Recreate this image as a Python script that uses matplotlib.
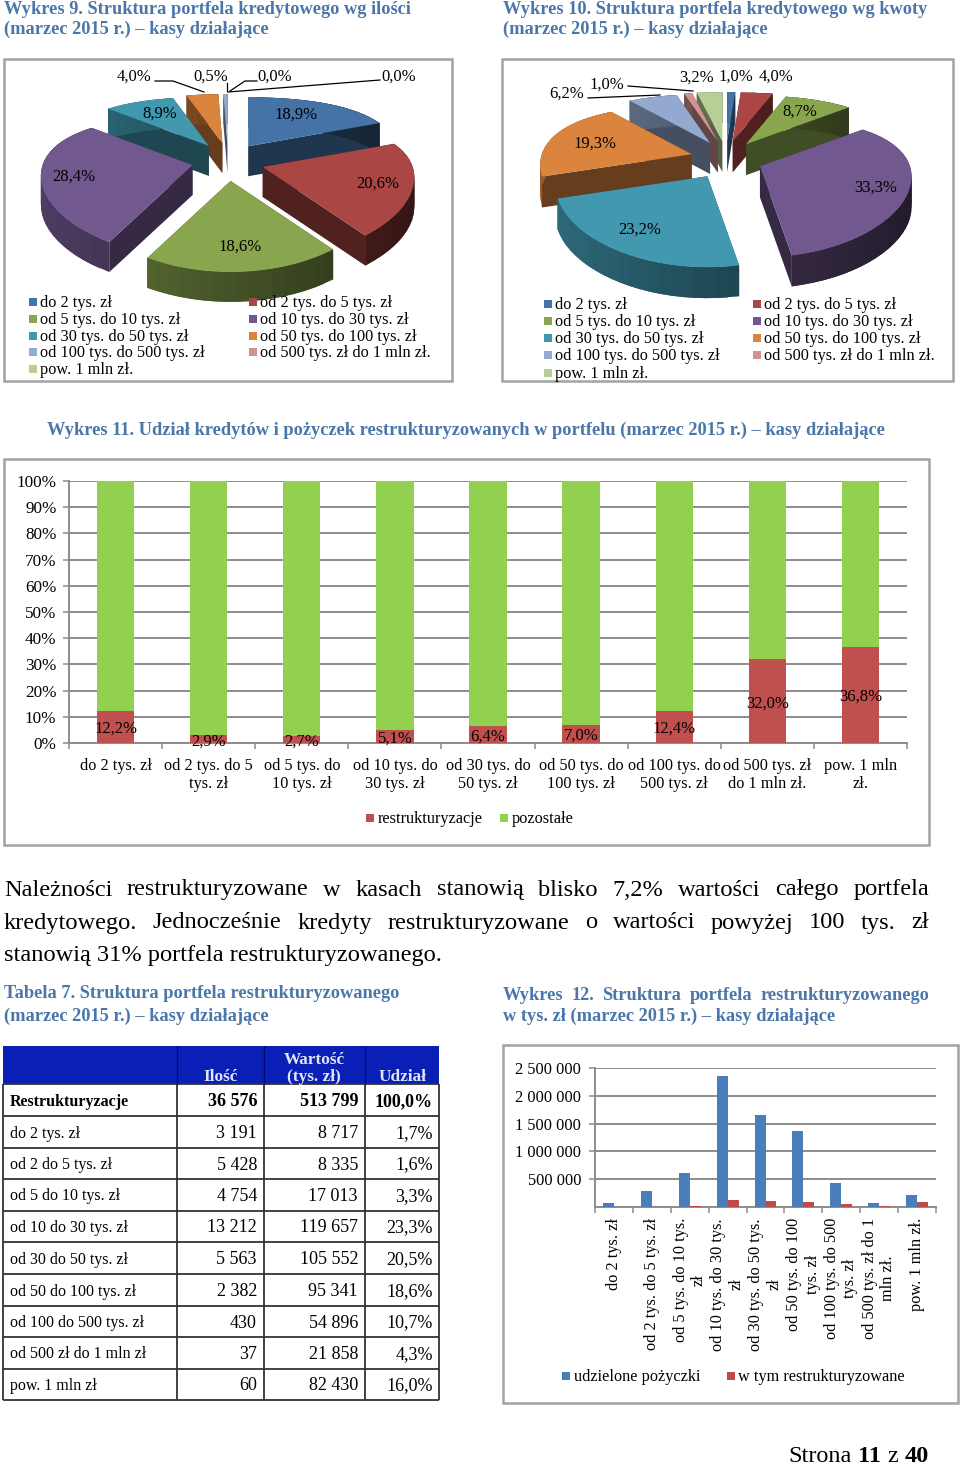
import numpy as np
import matplotlib.pyplot as plt
from matplotlib.patches import Rectangle

plt.rcParams.update({'font.family': ['Liberation Serif', 'DejaVu Serif'], 'font.size': 11.7})

W, H = 960, 1465

# -------------------------------------------------------------------------
# data
# -------------------------------------------------------------------------
PIE_NAMES = ["do 2 tys. zł", "od 2 tys. do 5 tys. zł", "od 5 tys. do 10 tys. zł",
             "od 10 tys. do 30 tys. zł", "od 30 tys. do 50 tys. zł", "od 50 tys. do 100 tys. zł",
             "od 100 tys. do 500 tys. zł", "od 500 tys. zł do 1 mln zł.", "pow. 1 mln zł."]
PIE_COLORS = ["#4572a7", "#aa4643", "#89a54e", "#71588f", "#4198af",
              "#db843d", "#93a9cf", "#d19392", "#b9cd96"]
shares_ilosc = [18.9, 20.6, 18.6, 28.4, 8.9, 4.0, 0.5, 0.0, 0.0]
shares_kwota = [1.0, 4.0, 8.7, 33.3, 23.2, 19.3, 6.2, 1.0, 3.2]

stack_names = ["do 2 tys. zł", "od 2 tys. do 5\ntys. zł", "od 5 tys. do\n10 tys. zł",
               "od 10 tys. do\n30 tys. zł", "od 30 tys. do\n50 tys. zł", "od 50 tys. do\n100 tys. zł",
               "od 100 tys. do\n500 tys. zł", "od 500 tys. zł\ndo 1 mln zł.", "pow. 1 mln\nzł."]
restr_pct = [12.2, 2.9, 2.7, 5.1, 6.4, 7.0, 12.4, 32.0, 36.8]

bar_names = ["do 2 tys. zł", "od 2 tys. do 5 tys. zł", "od 5 tys. do 10 tys.\nzł",
             "od 10 tys. do 30 tys.\nzł", "od 30 tys. do 50 tys.\nzł", "od 50 tys. do 100\ntys. zł",
             "od 100 tys. do 500\ntys. zł", "od 500 tys. zł do 1\nmln zł.", "pow. 1 mln zł."]
udzielone = [72000, 288000, 617000, 2356000, 1649000, 1367000, 438000, 66000, 222000]
w_tym_restr = [8717, 8335, 17013, 119657, 105552, 95341, 54896, 21858, 82430]

table_header = ["Ilość", "Wartość\n(tys. zł)", "Udział"]
table_rows = ["Restrukturyzacje", "do 2 tys. zł", "od 2 do 5 tys. zł", "od 5 do 10 tys. zł",
              "od 10 do 30 tys. zł", "od 30 do 50 tys. zł", "od 50 do 100 tys. zł",
              "od 100 do 500 tys. zł", "od 500 zł do 1 mln zł", "pow. 1 mln zł"]
table_ilosc = ["36 576", "3 191", "5 428", "4 754", "13 212", "5 563", "2 382", "430", "37", "60"]
table_wartosc = ["513 799", "8 717", "8 335", "17 013", "119 657", "105 552", "95 341",
                 "54 896", "21 858", "82 430"]
table_udzial = ["100,0%", "1,7%", "1,6%", "3,3%", "23,3%", "20,5%", "18,6%", "10,7%", "4,3%", "16,0%"]

BLUE_TITLE = "#4a76aa"
FRAME = "#a3a3a3"
GRID = "#8c8c8c"

fig = plt.figure(figsize=(W / 100, H / 100), dpi=100)
page = fig.add_axes([0, 0, 1, 1])
page.set_xlim(0, W)
page.set_ylim(H, 0)
page.axis("off")
renderer = fig.canvas.get_renderer()


def px_axes(x0, y0, x1, y1):
    ax = fig.add_axes([x0 / W, 1 - y1 / H, (x1 - x0) / W, (y1 - y0) / H])
    ax.patch.set_alpha(0)
    return ax


def line_of_words(words, x0, x1, y, size, color="black", weights=None):
    # justified line: the spare room goes evenly between the words
    weights = weights or ["normal"] * len(words)
    items = [page.text(x0, y, w, fontsize=size, color=color, weight=b, va="center")
             for w, b in zip(words, weights)]
    widths = [t.get_window_extent(renderer).width for t in items]
    gap = (x1 - x0 - sum(widths)) / (len(words) - 1)
    x = x0
    for t, w in zip(items, widths):
        t.set_x(x)
        x += w + gap


def frame(x0, y0, x1, y1):
    page.add_patch(Rectangle((x0, y0), x1 - x0, y1 - y0, fc="white", ec=FRAME, lw=1.8))


def swatch(x, y, color, size=8):
    page.add_patch(Rectangle((x, y - size / 2), size, size, fc=color, ec="none"))


def shade(color, f):
    c = np.array(plt.matplotlib.colors.to_rgb(color))
    return tuple(c * f)


def draw_pie(shares, cx, cy, depth):
    rx, ry, ex, ey = 150, 70, 36, 19
    edges = np.cumsum([0] + shares) / sum(shares) * 2 * np.pi
    slices = []
    for i, s in enumerate(shares):
        if s > 0:
            slices.append((edges[i], edges[i + 1], PIE_COLORS[i]))
    # back slices first so that the front ones sit on top
    slices.sort(key=lambda q: -np.cos((q[0] + q[1]) / 2))
    for a0, a1, col in slices:
        mid = (a0 + a1) / 2
        ax_, ay_ = cx + ex * np.sin(mid), cy - ey * np.cos(mid)
        a = np.linspace(a0, a1, max(int((a1 - a0) * 16), 3))
        c = -np.cos(a)
        xs = ax_ + rx * np.sin(a) * (1 + 0.15 * c)
        ys = ay_ + ry * c * (1 + 0.3 * c)
        for px, py in [(xs[0], ys[0]), (xs[-1], ys[-1])]:
            page.fill([ax_, px, px, ax_], [ay_, py, py + depth, ay_ + depth],
                      color=shade(col, 0.47), lw=0)
        n = len(a)
        for j in range(n - 1):
            # each strip runs under the next one, so no seams show
            k = min(j + 2, n - 1)
            f = 0.5 - 0.2 * np.sin((a[j] + a[j + 1]) / 2)
            page.fill([xs[j], xs[k], xs[k], xs[j]],
                      [ys[j], ys[k], ys[k] + depth, ys[j] + depth],
                      color=shade(col, f), lw=0)
        page.fill(np.r_[ax_, xs], np.r_[ay_, ys], color=col, lw=0)


def pie_legend(col_x, row_y):
    for i, name in enumerate(PIE_NAMES):
        x = col_x[i % 2]
        y = row_y[i // 2]
        swatch(x - 11, y, PIE_COLORS[i])
        page.text(x, y + 1, name, fontsize=11.7, va="center")


# -------------------------------------------------------------------------
# titles and paragraph
# -------------------------------------------------------------------------
bold = dict(fontsize=13.25, color=BLUE_TITLE, weight="bold", va="center")
page.text(4, 9, "Wykres 9. Struktura portfela kredytowego wg ilości", **bold)
page.text(4, 29, "(marzec 2015 r.) – kasy działające", **bold)
page.text(503, 9, "Wykres 10. Struktura portfela kredytowego wg kwoty", **bold)
page.text(503, 29, "(marzec 2015 r.) – kasy działające", **bold)
page.text(47, 430, "Wykres 11. Udział kredytów i pożyczek restrukturyzowanych w portfelu (marzec 2015 r.) – kasy działające", **bold)
page.text(4, 994, "Tabela 7. Struktura portfela restrukturyzowanego", **bold)
page.text(4, 1016, "(marzec 2015 r.) – kasy działające", **bold)
line_of_words("Wykres 12. Struktura portfela restrukturyzowanego".split(), 503, 929, 995, 13.25,
              BLUE_TITLE, ["bold"] * 5)
page.text(503, 1016, "w tys. zł (marzec 2015 r.) – kasy działające", **bold)

line_of_words("Należności restrukturyzowane w kasach stanowią blisko 7,2% wartości całego portfela".split(),
              4, 929, 890, 17.6)
line_of_words("kredytowego. Jednocześnie kredyty restrukturyzowane o wartości powyżej 100 tys. zł".split(),
              4, 929, 923, 17.6)
page.text(4, 955, "stanowią 31% portfela restrukturyzowanego.", fontsize=17.6, va="center")
line_of_words(["Strona", "11", "z", "40"], 788, 929, 1456, 17.5,
              weights=["normal", "bold", "normal", "bold"])

# =========================================================================
# PIES
# =========================================================================
frame(3.5, 59, 452, 381)
draw_pie(shares_ilosc, 228, 162, 30)
pie_legend([40, 260], [302, 319, 336, 352, 369])
for x, y, s in [(134, 77, "4,0%"), (211, 77, "0,5%"), (275, 77, "0,0%"), (399, 77, "0,0%"),
                (160, 114, "8,9%"), (296, 115, "18,9%"), (74, 177, "28,4%"),
                (378, 184, "20,6%"), (240, 247, "18,6%")]:
    page.text(x, y, s, ha="center", va="center", fontsize=12)
for xs, ys in [([155, 173, 204], [81, 81, 92]), ([227, 227], [83, 91]),
               ([257, 245, 230], [81, 81, 91]), ([380, 228], [80, 92])]:
    page.plot(xs, ys, color="black", lw=0.9)

frame(502, 59, 953, 381)
draw_pie(shares_kwota, 726, 160, 31)
pie_legend([555, 764], [304, 321, 338, 355, 373])
for x, y, s in [(567, 94, "6,2%"), (607, 85, "1,0%"), (696, 78, "3,2%"), (736, 77, "1,0%"),
                (776, 77, "4,0%"), (800, 112, "8,7%"), (595, 144, "19,3%"),
                (876, 188, "33,3%"), (640, 230, "23,2%")]:
    page.text(x, y, s, ha="center", va="center", fontsize=12)
for xs, ys in [([628, 693], [86, 91]), ([588, 660], [98, 95])]:
    page.plot(xs, ys, color="black", lw=0.9)

# =========================================================================
# STACKED BARS
# =========================================================================
frame(3.5, 459, 929, 845)
ax = px_axes(69, 481, 907, 743)
pos = np.arange(len(restr_pct))
pozostale = [100 - v for v in restr_pct]
ax.bar(pos, restr_pct, width=0.4, color="#c0504d", zorder=3)
ax.bar(pos, pozostale, width=0.4, bottom=restr_pct, color="#92d050", zorder=3)
for p, v in zip(pos, restr_pct):
    ax.annotate(f"{v:.1f}%".replace(".", ","), (p, v / 2), xytext=(0, -1.5), textcoords="offset points",
                ha="center", va="center", zorder=4, fontsize=12)
ax.set_xlim(-0.5, len(pos) - 0.5)
ax.set_ylim(0, 100)
ax.set_yticks(np.arange(0, 101, 10))
ax.set_yticklabels([f"{v}%" for v in range(0, 101, 10)], fontsize=12.3)
ax.set_xticks(np.arange(len(pos) + 1) - 0.5)
ax.set_xticklabels([])
ax.set_xticks(pos, minor=True)
ax.set_xticklabels(stack_names, minor=True, ma="center")
ax.tick_params(axis="x", which="minor", length=0, pad=10.5)
ax.tick_params(axis="x", which="major", length=4.5, width=1.1, color=GRID)
ax.tick_params(axis="y", length=4, width=1.1, color=GRID, pad=5)
ax.grid(axis="y", color=GRID, lw=1.4, zorder=0)
for side in ["top", "right"]:
    ax.spines[side].set_visible(False)
for side in ["left", "bottom"]:
    ax.spines[side].set_color(GRID)
    ax.spines[side].set_linewidth(1.4)
swatch(366, 818, "#c0504d")
page.text(378, 819, "restrukturyzacje", va="center", fontsize=11.7)
swatch(500, 818, "#92d050")
page.text(512, 819, "pozostałe", va="center", fontsize=11.7)

# =========================================================================
# TABLE
# =========================================================================
col_x = [2.5, 177, 264, 365, 439]
row_y = [1046, 1084, 1116, 1148, 1179, 1211, 1242, 1274, 1306, 1337, 1369, 1400]
page.add_patch(Rectangle((col_x[0], row_y[0]), col_x[-1] - col_x[0], row_y[1] - row_y[0],
                         fc="#0a1fb6", ec="none"))
head = dict(color="#dfe6f7", weight="bold", ha="center", va="bottom", fontsize=12.4)
page.text(221, 1085, table_header[0], **head)
page.text(314, 1085, table_header[1], linespacing=1.1, **head)
page.text(403, 1085, table_header[2], **head)
page.hlines(row_y[1:], col_x[0], col_x[-1], color="#333333", lw=1.3)
page.vlines(col_x, row_y[1], row_y[-1], color="#333333", lw=1.3)
page.vlines(col_x[1:-1], row_y[0], row_y[1], color="#000a70", lw=1.0)
for i in range(len(table_rows)):
    y = (row_y[i + 1] + row_y[i + 2]) / 2 + 1.5
    b = "bold" if i == 0 else "normal"
    page.text(10, y, table_rows[i], fontsize=11.5, weight=b, va="center")
    page.text(257, y, table_ilosc[i], fontsize=13, weight=b, va="center", ha="right")
    page.text(358, y, table_wartosc[i], fontsize=13, weight=b, va="center", ha="right")
    page.text(433, y, table_udzial[i], fontsize=13, weight=b, va="center", ha="right")

# =========================================================================
# GROUPED BARS
# =========================================================================
frame(503, 1045, 958, 1403)
ax = px_axes(595, 1068, 936, 1207)
pos = np.arange(len(udzielone))
ax.bar(pos - 0.145, udzielone, width=0.29, color="#4a7ebb", zorder=3)
ax.bar(pos + 0.145, w_tym_restr, width=0.29, color="#be4b48", zorder=3)
ax.set_xlim(-0.5, len(pos) - 0.5)
ax.set_ylim(0, 2500000)
ax.set_yticks(np.arange(500000, 2500001, 500000))
ax.set_yticklabels(["500 000", "1 000 000", "1 500 000", "2 000 000", "2 500 000"], fontsize=11.8, va="center_baseline")
ax.set_xticks(np.arange(len(pos) + 1) - 0.5)
ax.set_xticklabels([])
ax.set_xticks(pos, minor=True)
ax.set_xticklabels(bar_names, minor=True, rotation=90, ma="center", va="top")
ax.tick_params(axis="x", which="minor", length=0, pad=8)
ax.tick_params(axis="x", which="major", length=4.5, width=1.1, color=GRID)
ax.tick_params(axis="y", length=4, width=1.1, color=GRID, pad=6)
ax.grid(axis="y", color=GRID, lw=1.4, zorder=0)
for side in ["top", "right"]:
    ax.spines[side].set_visible(False)
for side in ["left", "bottom"]:
    ax.spines[side].set_color(GRID)
    ax.spines[side].set_linewidth(1.4)
swatch(562, 1376, "#4a7ebb")
page.text(574, 1377, "udzielone pożyczki", va="center", fontsize=11.7)
swatch(727, 1376, "#be4b48")
page.text(738, 1377, "w tym restrukturyzowane", va="center", fontsize=11.7)

fig.savefig("out.png", dpi=100)
